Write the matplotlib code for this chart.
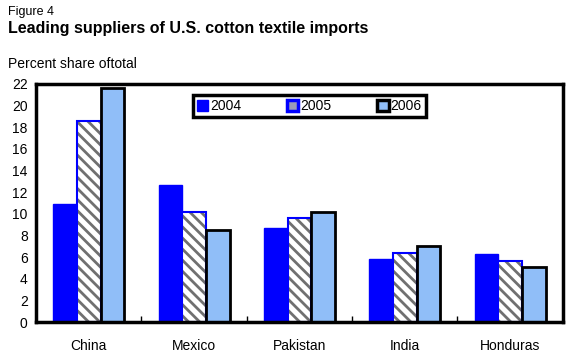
import matplotlib
matplotlib.use('Agg')
import matplotlib.pyplot as plt
import numpy as np
from matplotlib.patches import Patch

countries = ['China', 'Mexico', 'Pakistan', 'India', 'Honduras']
years = ['2004', '2005', '2006']
share_2004 = [10.9, 12.7, 8.7, 5.8, 6.3]
share_2005 = [18.6, 10.2, 9.6, 6.4, 5.6]
share_2006 = [21.6, 8.5, 10.2, 7.0, 5.1]

plt.rcParams['font.family'] = ['Liberation Sans', 'DejaVu Sans']
plt.rcParams['hatch.linewidth'] = 2.0
plt.rcParams['hatch.color'] = '#707070'

fig = plt.figure(figsize=(5.72, 3.54), dpi=100)
ax = fig.add_axes([0.063, 0.090, 0.921, 0.673])

x = np.arange(len(countries))
w = 0.225

ax.bar(x - w, share_2004, w, color='#0000FF', edgecolor='#0000FF', linewidth=1)
ax.bar(x, share_2005, w, color='white', edgecolor='#707070', hatch='\\\\\\', linewidth=0)
ax.bar(x, share_2005, w, fill=False, edgecolor='#0000FF', linewidth=1.5)
ax.bar(x + w, share_2006, w, color='#90BEF8', edgecolor='black', linewidth=2)

ax.set_xlim(-0.5, len(countries) - 0.5)
ax.set_ylim(0, 22)
ax.set_yticks(range(0, 23, 2))
ax.set_xticks(x)
ax.set_xticklabels(countries, fontsize=10)
ax.set_xticks(np.arange(0.5, len(countries) - 0.5), minor=True)
ax.tick_params(axis='x', which='major', length=0, pad=12)
ax.tick_params(axis='x', which='minor', direction='in', length=4, width=1)
ax.tick_params(axis='y', length=0, labelsize=10, pad=6)
for s in ax.spines.values():
    s.set_linewidth(2.5)

handles = [Patch(facecolor='#0000FF', edgecolor='#0000FF'),
           Patch(facecolor='#9A9AB8', edgecolor='#0000FF', linewidth=2.5),
           Patch(facecolor='#90BEF8', edgecolor='black', linewidth=2.5)]
leg = ax.legend(handles, years, ncol=3, loc='upper left', bbox_to_anchor=(0.298, 0.954),
                borderaxespad=0, fontsize=10, frameon=True, fancybox=False, edgecolor='black',
                framealpha=1, handlelength=0.8, handleheight=0.8, handletextpad=0.15,
                columnspacing=3.3, borderpad=0.3)
leg.get_frame().set_linewidth(2.5)

fig.text(0.014, 0.965, 'Figure 4', fontsize=9, va='center')
fig.text(0.014, 0.92, 'Leading suppliers of U.S. cotton textile imports',
         fontsize=11.5, fontweight='bold', va='center')
fig.text(0.014, 0.82, 'Percent share oftotal', fontsize=10, va='center')

fig.savefig('out.png', dpi=100)
